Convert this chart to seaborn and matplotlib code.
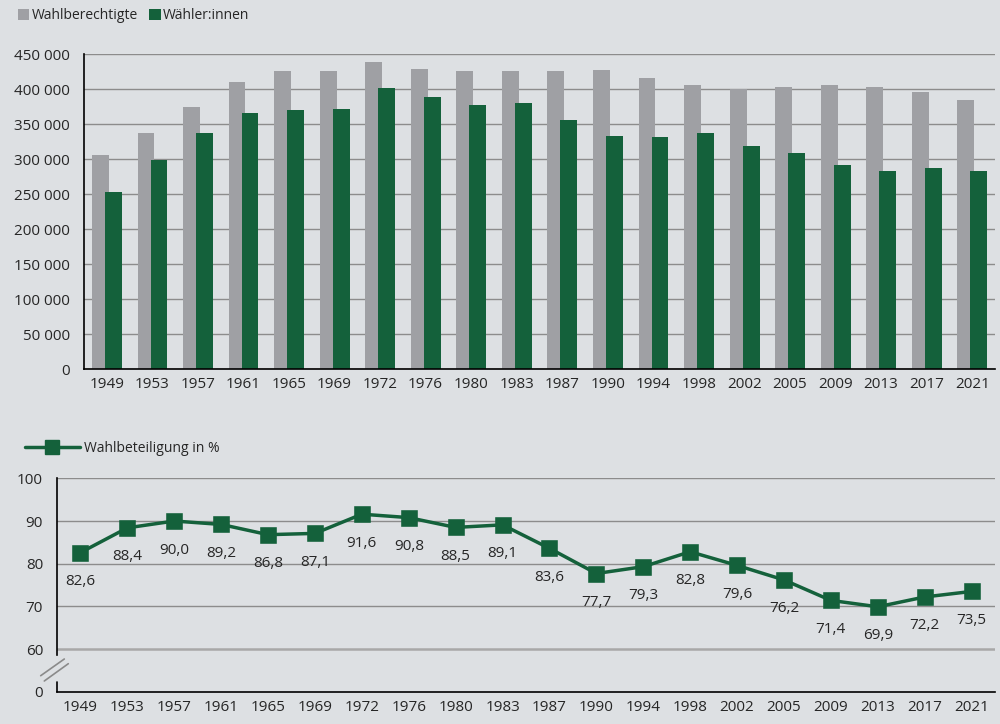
import pandas as pd
import matplotlib.pyplot as plt
import matplotlib.transforms as mtransforms
import seaborn as sns
from matplotlib.lines import Line2D
from matplotlib.patches import Patch

# Data
years = ["1949", "1953", "1957", "1961", "1965", "1969", "1972", "1976", "1980", "1983",
         "1987", "1990", "1994", "1998", "2002", "2005", "2009", "2013", "2017", "2021"]

wahlberechtigte = [305200, 337600, 374300, 409500, 425700, 425700, 438600, 428600, 425200, 425200,
                   426200, 427600, 416200, 406200, 400500, 403300, 405700, 403300, 396200, 384300]

waehler = [252900, 299000, 337100, 365700, 370000, 371400, 401900, 389000, 376700, 380000,
           356200, 332400, 331000, 336700, 319000, 308100, 291000, 282900, 287100, 282900]

beteiligung = [82.6, 88.4, 90.0, 89.2, 86.8, 87.1, 91.6, 90.8, 88.5, 89.1,
               83.6, 77.7, 79.3, 82.8, 79.6, 76.2, 71.4, 69.9, 72.2, 73.5]

top_ticks = [0, 50000, 100000, 150000, 200000, 250000, 300000, 350000, 400000, 450000]
bottom_ticks = [50, 60, 70, 80, 90, 100]
bottom_tick_labels = ["0", "60", "70", "80", "90", "100"]

BG = "#dde0e3"
GRAY = "#9fa0a4"
GREEN = "#14613b"
TEXT = "#262626"
GRID = "#8c8c8c"

sns.set_style("white", rc={"axes.facecolor": BG, "figure.facecolor": BG})
plt.rcParams["font.family"] = ["Open Sans", "DejaVu Sans"]
plt.rcParams["text.color"] = TEXT
plt.rcParams["xtick.color"] = "black"
plt.rcParams["ytick.color"] = "black"
plt.rcParams["xtick.labelcolor"] = TEXT
plt.rcParams["ytick.labelcolor"] = TEXT

fig = plt.figure(figsize=(10, 7.24), dpi=100)

# ---------- top: bar chart ----------
bar_df = pd.DataFrame({
    "Jahr": years + years,
    "Anzahl": wahlberechtigte + waehler,
    "Gruppe": ["Wahlberechtigte"] * len(years) + ["Wähler:innen"] * len(years),
})

ax1 = fig.add_axes([0.084, 0.4903, 0.911, 0.4351])
sns.barplot(
    data=bar_df,
    x="Jahr",
    y="Anzahl",
    hue="Gruppe",
    palette=[GRAY, GREEN],
    width=0.74,
    saturation=1,
    errorbar=None,
    legend=False,
    ax=ax1
)

# bars in the reference overlap a little
for bar in ax1.containers[0]:
    bar.set_x(bar.get_x() + 0.045)
    bar.set_linewidth(0)
for bar in ax1.containers[1]:
    bar.set_x(bar.get_x() - 0.04)
    bar.set_linewidth(0)

ax1.set_xlim(-0.5, len(years) - 0.5)
ax1.set_ylim(0, 450000)
ax1.set_yticks(top_ticks)
ax1.set_yticklabels([f"{v:,}".replace(",", " ") for v in top_ticks])
ax1.set_xlabel("")
ax1.set_ylabel("")

# ---------- bottom: turnout line ----------
line_df = pd.DataFrame({"Jahr": years, "Wahlbeteiligung": beteiligung})

ax2 = fig.add_axes([0.057, 0.0446, 0.938, 0.2947])
sns.pointplot(
    data=line_df,
    x="Jahr",
    y="Wahlbeteiligung",
    color=GREEN,
    marker="s",
    markersize=10.5,
    linewidth=2.5,
    errorbar=None,
    ax=ax2
)

for i, v in enumerate(beteiligung):
    ax2.annotate(
        f"{v:.1f}".replace(".", ","),
        (i, v),
        xytext=(0, -29),
        textcoords="offset pixels",
        ha="center",
        va="center",
        fontsize=11,
        color=TEXT
    )

ax2.set_xlim(-0.5, len(years) - 0.5)
ax2.set_ylim(50, 100)
ax2.set_yticks(bottom_ticks)
ax2.set_yticklabels(bottom_tick_labels)
ax2.set_xlabel("")
ax2.set_ylabel("")

# ---------- shared axis styling ----------
for ax in (ax1, ax2):
    ax.set_axisbelow(True)
    ax.yaxis.grid(True, color=GRID, linewidth=1)
    ax.xaxis.grid(False)
    for s in ("top", "right"):
        ax.spines[s].set_visible(False)
    for s in ("left", "bottom"):
        ax.spines[s].set_color("black")
        ax.spines[s].set_linewidth(1.2)
    ax.set_xticks(range(len(years)))
    ax.set_xticklabels(years)
    ax.set_xticks([i - 0.5 for i in range(len(years) + 1)], minor=True)
    ax.tick_params(axis="x", which="major", length=0, pad=6, labelsize=11)
    ax.tick_params(axis="x", which="minor", length=4, width=1, direction="out")
    ax.tick_params(axis="y", length=4, width=1, direction="out", pad=6, labelsize=11)

# broken axis on the turnout chart
grid_lines = ax2.get_ygridlines()
grid_lines[0].set_visible(False)
grid_lines[1].set_color("#a8a8a8")
grid_lines[1].set_linewidth(1.8)
ax2.spines["left"].set_bounds(58.6, 100)
blend = mtransforms.blended_transform_factory(ax2.transAxes, ax2.transData)
ax2.plot([0, 0], [50, 52.3], transform=blend, color="black", lw=1.2, clip_on=False)
for x0, y0, x1, y1 in [(40.7, 675.7, 64.3, 659.0), (44.3, 681.0, 68.3, 663.7)]:
    fig.add_artist(Line2D([x0 / 1000, x1 / 1000], [1 - y0 / 724, 1 - y1 / 724],
                          transform=fig.transFigure, color="#8a8a8a", lw=1.2))

# legends
fig.legend(
    handles=[Patch(facecolor=GRAY, edgecolor="none", label="Wahlberechtigte"),
             Patch(facecolor=GREEN, edgecolor="none", label="Wähler:innen")],
    loc="center left",
    bbox_to_anchor=(0.012, 1 - 15.5 / 724),
    ncol=2,
    frameon=False,
    fontsize=10,
    handlelength=0.85,
    handleheight=0.85,
    handletextpad=0.15,
    columnspacing=0.8,
    borderaxespad=0
)

fig.legend(
    handles=[Line2D([0], [0], color=GREEN, lw=2.5, marker="s", markersize=10,
                    label="Wahlbeteiligung in %")],
    loc="center left",
    bbox_to_anchor=(0.019, 1 - 448 / 724),
    frameon=False,
    fontsize=10,
    handlelength=4.0,
    handletextpad=0.3,
    borderaxespad=0
)

fig.savefig("out.png", dpi=100, facecolor=BG)
plt.close(fig)
